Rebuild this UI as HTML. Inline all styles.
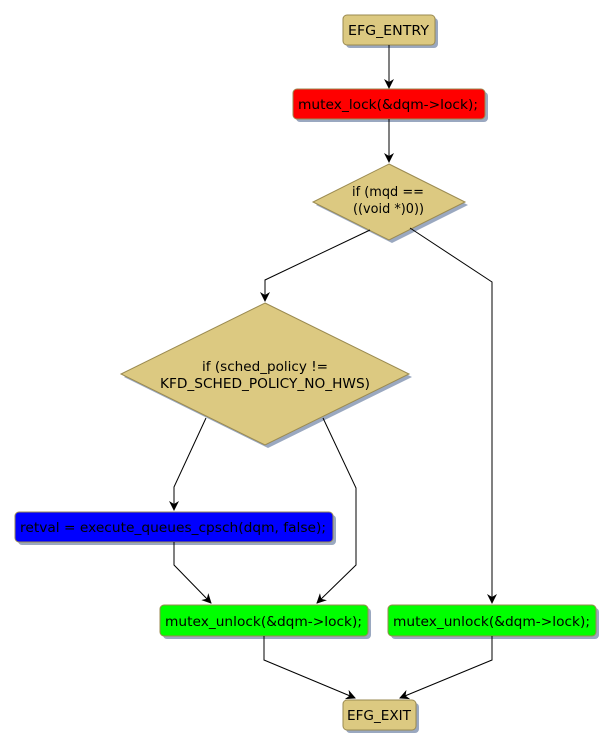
<!DOCTYPE html>
<html><head><style>
body{margin:0;background:#fff;}
svg text{font-family:"DejaVu Sans","Liberation Sans",sans-serif;font-size:13px;}
</style></head><body>
<svg width="615" height="748" xmlns="http://www.w3.org/2000/svg">
<defs>
<marker id="a" markerWidth="10" markerHeight="10" refX="9" refY="5" orient="auto" markerUnits="userSpaceOnUse">
<path d="M0,0 L10,5 L0,10 L3,5 Z" fill="#000"/></marker>
</defs>
<g fill="#9aa8c0">
<rect x="346" y="18" width="92" height="30" rx="4"/>
<rect x="296" y="92" width="192" height="30" rx="4"/>
<polygon points="392,167 468,205 392,243 316,205"/>
<polygon points="268,306 412,377 268,448 124,377"/>
<rect x="18" y="515" width="318" height="30" rx="4"/>
<rect x="163" y="608" width="208" height="31" rx="4"/>
<rect x="391" y="608" width="208" height="31" rx="4"/>
<rect x="346" y="703" width="73" height="30" rx="4"/>
</g>
<g stroke="#9a8a50" stroke-width="1">
<rect x="343" y="15" width="92" height="30" rx="4" fill="#dcc981"/>
<rect x="293" y="89" width="192" height="30" rx="4" fill="#ff0000"/>
<polygon points="389,164 465,202 389,240 313,202" fill="#dcc981"/>
<polygon points="265,303 409,374 265,445 121,374" fill="#dcc981"/>
<rect x="15" y="512" width="318" height="30" rx="4" fill="#0000ff"/>
<rect x="160" y="605" width="208" height="31" rx="4" fill="#00ff00"/>
<rect x="388" y="605" width="208" height="31" rx="4" fill="#00ff00"/>
<rect x="343" y="700" width="73" height="30" rx="4" fill="#dcc981"/>
</g>
<g fill="none" stroke="#000" stroke-width="1" marker-end="url(#a)">
<path d="M389,45 L389,88"/>
<path d="M389,119 L389,162"/>
<path d="M370,230 L265,280 L265,301"/>
<path d="M410,228 L492,282 L492,603"/>
<path d="M206,418 L174,487 L174,510"/>
<path d="M323,418 L356,488 L356,565 L317,603"/>
<path d="M174,542 L174,565 L211,603"/>
<path d="M264,636 L264,660 L355,698"/>
<path d="M492,636 L492,660 L400,698"/>
</g>
<g fill="#000">
<text x="348" y="35" textLength="81" lengthAdjust="spacingAndGlyphs">EFG_ENTRY</text>
<text x="298" y="109" textLength="180" lengthAdjust="spacingAndGlyphs">mutex_lock(&amp;dqm-&gt;lock);</text>
<text x="352" y="196" textLength="72" lengthAdjust="spacingAndGlyphs">if (mqd ==</text>
<text x="353" y="213" textLength="71" lengthAdjust="spacingAndGlyphs">((void *)0))</text>
<text x="202" y="371" textLength="126" lengthAdjust="spacingAndGlyphs">if (sched_policy !=</text>
<text x="160" y="388" textLength="210" lengthAdjust="spacingAndGlyphs">KFD_SCHED_POLICY_NO_HWS)</text>
<text x="20" y="532" textLength="306" lengthAdjust="spacingAndGlyphs">retval = execute_queues_cpsch(dqm, false);</text>
<text x="165" y="626" textLength="197" lengthAdjust="spacingAndGlyphs">mutex_unlock(&amp;dqm-&gt;lock);</text>
<text x="393" y="626" textLength="197" lengthAdjust="spacingAndGlyphs">mutex_unlock(&amp;dqm-&gt;lock);</text>
<text x="347" y="720" textLength="64" lengthAdjust="spacingAndGlyphs">EFG_EXIT</text>
</g>
</svg>
</body></html>
